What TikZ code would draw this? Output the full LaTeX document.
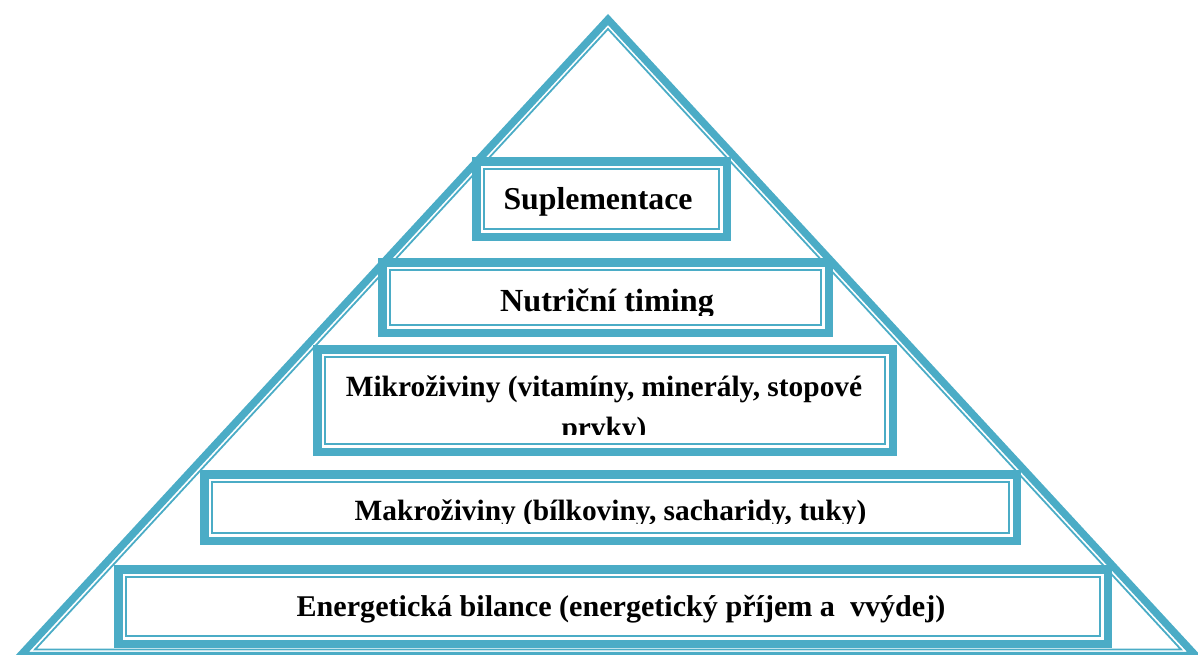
\documentclass[tikz,border=0pt]{standalone}
\usepackage{fontspec}
\setmainfont{Liberation Serif}
\definecolor{acc}{RGB}{75,172,198}
\begin{document}
\begin{tikzpicture}[x=1pt,y=-1pt,
  thickbox/.style={draw=acc,line width=8.5pt,fill=white,rectangle,inner sep=0pt,outer sep=0pt},
  thinbox/.style={draw=acc,line width=1.8pt,rectangle,inner sep=0pt,outer sep=0pt},
  lab/.style={inner sep=0pt,outer sep=0pt,anchor=base,font=\bfseries\fontsize{#1}{37}\selectfont},
  lab/.default=30]
\useasboundingbox (0,0) rectangle (1198,654);
% triangle
\draw[acc,line width=7.5pt,line join=miter] (608,19.5) -- (20.5,655.5) -- (1195.5,655.5) -- cycle;
\draw[acc,line width=1.8pt,line join=miter] (608,29) -- (35,649.5) -- (1181,649.5) -- cycle;
% box 1
\node[thickbox,minimum width=250.5pt,minimum height=75.5pt] (b1) at (601.5,199) {};
\node[thinbox,minimum width=235pt,minimum height=60pt] (i1) at (b1.center) {};
\node[lab=31.8] (t1) at (598,209) {Suplementace};
% box 2
\node[thickbox,minimum width=446.5pt,minimum height=70.5pt] (b2) at (605.5,297.5) {};
\node[thinbox,minimum width=431pt,minimum height=55pt] (i2) at (b2.center) {};
\begin{scope}
\clip (392,272) rectangle (819,315.5);
\node[lab=32.2] (t2) at (607,311) {Nutriční timing};
\end{scope}
% box 3
\node[thickbox,minimum width=575.5pt,minimum height=102.5pt] (b3) at (605,400.5) {};
\node[thinbox,minimum width=560pt,minimum height=87pt] (i3) at (b3.center) {};
\begin{scope}
\clip (327,359) rectangle (883,434);
\node[lab=29.4] (t3a) at (604,396) {Mikroživiny (vitamíny, minerály, stopové};
\node[lab=29.4] (t3b) at (604,437) {prvky)};
\end{scope}
% box 4
\node[thickbox,minimum width=812.5pt,minimum height=66.5pt] (b4) at (610.5,507.5) {};
\node[thinbox,minimum width=797pt,minimum height=51pt] (i4) at (b4.center) {};
\begin{scope}
\clip (214,484) rectangle (1007,523);
\node[lab=29.4] (t4) at (610.5,520) {Makroživiny (bílkoviny, sacharidy, tuky)};
\end{scope}
% box 5
\node[thickbox,minimum width=989.5pt,minimum height=74.5pt] (b5) at (613,606.5) {};
\node[thinbox,minimum width=974pt,minimum height=59pt] (i5) at (b5.center) {};
\node[lab=30.1] (t5) at (621,616) {Energetická bilance (energetický příjem a \ vvýdej)};
\end{tikzpicture}
\end{document}
